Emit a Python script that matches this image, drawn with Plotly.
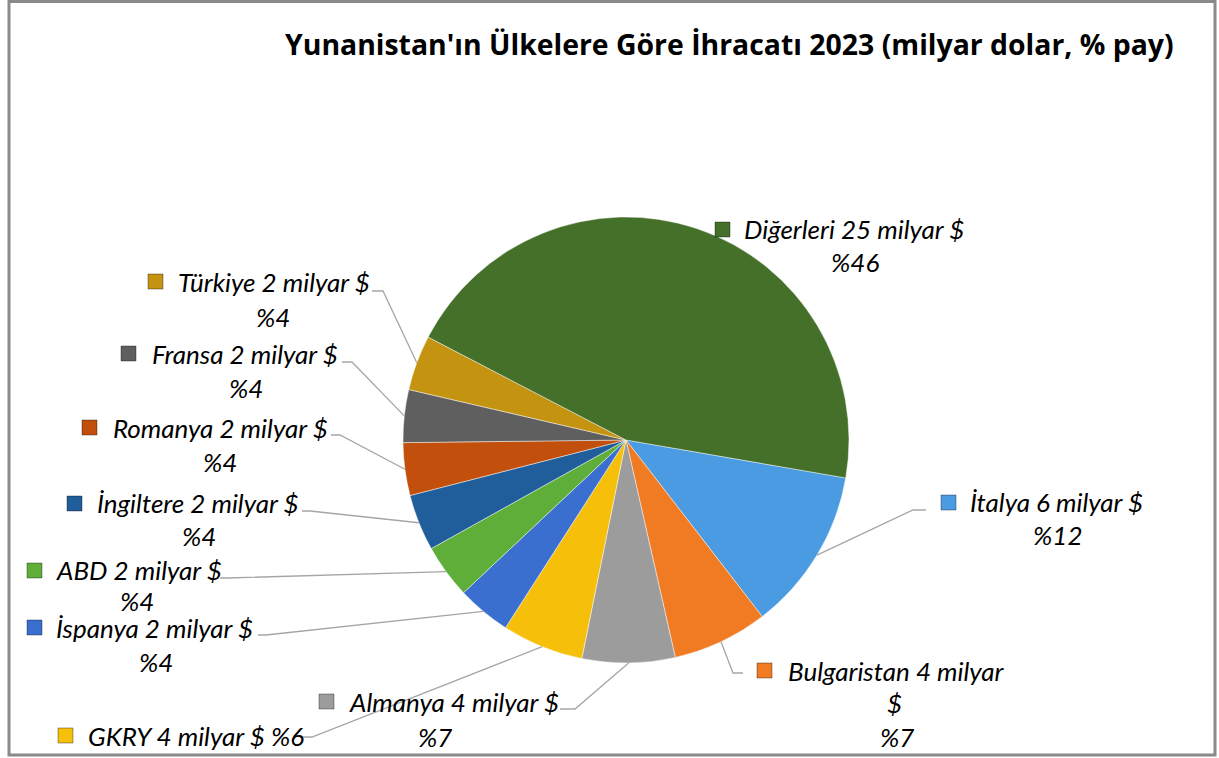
import math
import plotly.graph_objects as go

W, H = 1219, 758

# ---- data ----
countries = ["İtalya", "Bulgaristan", "Almanya", "GKRY", "İspanya", "ABD",
             "İngiltere", "Romanya", "Fransa", "Türkiye", "Diğerleri"]
values_bn = [6.5, 3.8, 3.7, 3.25, 2.15, 2.15, 2.25, 2.1, 2.1, 2.2, 24.8]
amount_labels = ["6", "4", "4", "4", "2", "2", "2", "2", "2", "2", "25"]
pct_labels = ["12", "7", "7", "6", "4", "4", "4", "4", "4", "4", "46"]
title_text = "Yunanistan'ın Ülkelere Göre İhracatı 2023 (milyar dolar, % pay)"

# ---- styles ----
colors = ["#4a9be2", "#f07b22", "#9c9c9c", "#f5bf0a", "#3a6fd0", "#5fae3a",
          "#1f5e9b", "#c24f0c", "#5f5f5f", "#c4930f", "#44702a"]
FONT = "Lato"
TITLE_FONT = "Open Sans"
LABEL_SIZE = 26
CX, CY, R = 626, 440, 223          # pie centre / radius in px
ROTATION = 99.8                    # first slice starts here (clockwise from 12 o'clock)

def px(x):
    return x / W

def py(y):
    return 1 - y / H

# label layout (px): square x/y, line-1 left x, line-1 centre y, extra lines, leader start & elbow
layout_pos = {
    "İtalya":      dict(sq=(941, 495), tx=968, ty=502, extra=[("%12", 1058, 535)], lead=[(926, 510), (913, 510)]),
    "Bulgaristan": dict(sq=(757, 663), tx=786, ty=671, extra=[("$", 894, 703), ("%7", 897, 737)], lead=[(743, 673), (733, 673)], split=True),
    "Almanya":     dict(sq=(319, 694), tx=347, ty=702, extra=[("%7", 435, 737)], lead=[(560, 709), (575, 709)]),
    "GKRY":        dict(sq=(58, 728), tx=86, ty=736, extra=[], lead=[(300, 737), (312, 737)], single=True),
    "İspanya":     dict(sq=(27, 620), tx=54, ty=628, extra=[("%4", 156, 662)], lead=[(258, 635), (266, 635)]),
    "ABD":         dict(sq=(27, 563), tx=54, ty=570, extra=[("%4", 137, 601)], lead=[(220, 578), (228, 578)]),
    "İngiltere":   dict(sq=(67, 496), tx=95, ty=503, extra=[("%4", 199, 536)], lead=[(302, 511), (310, 511)]),
    "Romanya":     dict(sq=(82, 420), tx=111, ty=428, extra=[("%4", 220, 462)], lead=[(331, 435), (340, 435)]),
    "Fransa":      dict(sq=(121, 346), tx=150, ty=354, extra=[("%4", 246, 388)], lead=[(342, 362), (352, 362)]),
    "Türkiye":     dict(sq=(148, 274), tx=176, ty=282, extra=[("%4", 273, 317)], lead=[(372, 291), (383, 291)]),
    "Diğerleri":   dict(sq=(715, 222), tx=742, ty=229, extra=[("%46", 855, 262)], lead=None),
}

fig = go.Figure()
fig.add_trace(go.Pie(
    labels=countries, values=values_bn, sort=False, direction="clockwise",
    rotation=ROTATION, textinfo="none", hoverinfo="label+value+percent",
    marker=dict(colors=colors, line=dict(color="rgba(255,255,255,0.45)", width=1)),
    domain=dict(x=[px(CX - R), px(CX + R)], y=[py(CY + R), py(CY - R)]),
    showlegend=False,
))

shapes = []
annotations = []

# frame
shapes.append(dict(type="rect", xref="paper", yref="paper",
                   x0=px(9), x1=px(1215), y0=py(755), y1=py(1.5),
                   line=dict(color="#8a8a8a", width=3), fillcolor="rgba(0,0,0,0)"))

# title
annotations.append(dict(xref="paper", yref="paper", x=px(1176), y=py(44),
                        xanchor="right", yanchor="middle", showarrow=False,
                        text="<b>" + title_text + "</b>",
                        font=dict(family=TITLE_FONT, size=28.4, color="#000000")))

total = sum(values_bn)
cum = 0.0
for name, v, amt, pct, col in zip(countries, values_bn, amount_labels, pct_labels, colors):
    mid = ROTATION + 360.0 * (cum + v / 2) / total
    cum += v
    lp = layout_pos[name]
    # legend-key square
    sx, sy = lp["sq"]
    shapes.append(dict(type="rect", xref="paper", yref="paper",
                       x0=px(sx), x1=px(sx + 15), y0=py(sy + 15), y1=py(sy),
                       fillcolor=col, line=dict(color="rgba(0,0,0,0.35)", width=1)))
    if lp.get("single"):
        line1 = f"{name} {amt} milyar $ %{pct}"
    elif lp.get("split"):
        line1 = f"{name} {amt} milyar"
    else:
        line1 = f"{name} {amt} milyar $"
    annotations.append(dict(xref="paper", yref="paper", x=px(lp["tx"]), y=py(lp["ty"]),
                            xanchor="left", yanchor="middle", showarrow=False,
                            text="<i>" + line1 + "</i>",
                            font=dict(family=FONT, size=LABEL_SIZE, color="#000000")))
    for t, ex, ey in lp["extra"]:
        annotations.append(dict(xref="paper", yref="paper", x=px(ex), y=py(ey),
                                xanchor="center", yanchor="middle", showarrow=False,
                                text="<i>" + t + "</i>",
                                font=dict(family=FONT, size=LABEL_SIZE, color="#000000")))
    # leader line to slice edge at mid angle
    if lp["lead"]:
        a = math.radians(mid)
        ex_, ey_ = CX + R * math.sin(a), CY - R * math.cos(a)
        pts = lp["lead"] + [(ex_, ey_)]
        path = "M " + " L ".join(f"{px(x):.5f},{py(y):.5f}" for x, y in pts)
        shapes.append(dict(type="path", xref="paper", yref="paper", path=path,
                           line=dict(color="#a6a6a6", width=1.3)))

fig.update_layout(
    width=W, height=H, margin=dict(l=0, r=0, t=0, b=0),
    paper_bgcolor="#ffffff", plot_bgcolor="#ffffff",
    shapes=shapes, annotations=annotations,
)

fig.write_html("out.html", config={"displayModeBar": False},
               post_script="document.body.style.margin='0';document.body.style.overflow='hidden';")
